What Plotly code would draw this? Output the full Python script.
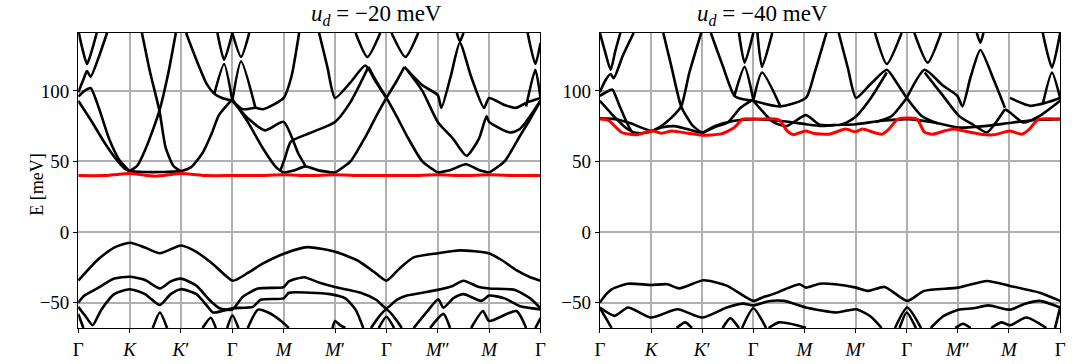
import plotly.graph_objects as go

# ---------------- data (k in units of path segments, E in meV) ----------------
TICK_VALS = [0, 1, 2, 3, 4, 5, 6, 7, 8, 9]
TICK_TEXT = ["Γ", "<i>K</i>", "<i>K</i>′", "Γ", "<i>M</i>", "<i>M</i>′", "Γ", "<i>M</i>″", "<i>M</i>", "Γ"]
Y_TICKS = [-50, 0, 50, 100]
Y_TICK_TEXT = ["−50", "0", "50", "100"]
TITLES = ["<i>u<sub>d</sub></i> = −20 meV", "<i>u<sub>d</sub></i> = −40 meV"]

# u_d = -20 meV : conduction bands (black)
COND_20 = [
    ([0, 0.25, 0.5, 0.75, 0.9, 1], [93, 79, 64, 51, 45, 43]),
    ([0, 0.12, 0.24, 0.4, 0.6, 0.8, 1], [96, 100, 102, 88, 66, 51, 43]),
    ([0, 0.1, 0.17, 0.24, 0.4, 0.56], [99, 108, 114, 110, 124, 141]),
    ([0, 0.08, 0.17, 0.26, 0.36], [143, 130, 119, 128, 141]),
    ([1, 1.15, 1.3, 1.45, 1.58, 1.75, 1.9], [43, 47, 58, 72, 86, 112, 141]),
    ([1.24, 1.4, 1.58, 1.7, 1.85, 2], [141, 113, 86, 60, 47, 43]),
    ([1, 1.3, 1.6, 2], [43, 42.5, 42.5, 43]),
    ([2, 2.2, 2.42, 2.6, 2.74, 2.9, 3], [43, 46, 56, 70, 83, 90, 94]),
    ([2.1, 2.3, 2.5, 2.65, 2.8, 3], [141, 122, 105, 98, 95, 93]),
    ([2.65, 2.84, 3], [98, 119, 93]),
    ([2.71, 2.84, 3.0], [141, 122, 141]),
    ([3, 3.17, 3.45], [93, 121, 88]),
    ([3.0, 3.17, 3.33], [141, 124, 141]),
    ([3, 3.3, 3.6, 3.85, 4], [94, 78, 59, 46, 42]),
    ([3, 3.32, 3.64, 4.0, 4.28, 4.42], [93, 80, 72, 78, 56, 47]),
    ([4, 4.2, 4.42, 4.7, 5], [42, 43.5, 46.5, 43.5, 42]),
    ([3, 3.2, 3.45, 3.6, 4.0, 4.15, 4.3], [93, 87, 88, 87, 95, 110, 141]),
    ([4.69, 4.85, 5.0, 5.3, 5.59, 5.8, 6.0], [141, 117, 95, 106, 118, 106, 95]),
    ([5.4, 5.63, 5.88], [141, 124, 141]),
    ([3.93, 4.02, 4.14, 4.5, 5.0, 5.3, 5.65], [43, 52, 64, 70, 78, 92, 117]),
    ([5, 5.3, 5.6, 5.8, 6, 6.2, 6.35], [42, 50, 68, 82, 95, 107, 117]),
    ([5.65, 5.8, 6, 6.2, 6.4, 6.7, 7], [117, 107, 95, 82, 68, 50, 42]),
    ([6.1, 6.37, 6.62], [141, 124, 141]),
    ([6.35, 6.7, 7.0, 7.07, 7.25, 7.43, 7.65, 7.9, 8.0, 8.3, 8.52, 8.75, 9.0],
     [117, 104, 97, 88, 110, 134, 110, 88, 95, 90, 88, 92, 95]),
    ([7.37, 7.43, 7.5], [141, 135, 141]),
    ([6.4, 6.7, 7.0, 7.3, 7.56, 7.8, 7.95, 8.0, 8.4, 8.6, 9.0],
     [115, 100, 78, 66, 54, 66, 82, 78, 70.5, 73, 93]),
    ([7, 7.25, 7.55, 7.8, 8], [42, 44, 48, 44, 42]),
    ([8, 8.3, 8.6, 8.8, 9], [42, 50, 68, 80, 93]),
    ([8.75, 8.9, 9.0], [141, 119, 134]),
    ([8.72, 8.9, 9.0], [89, 115, 95]),
]

# u_d = -20 meV : valence bands (black)
VAL_20 = [
    ([0, 0.37, 0.7, 1.01, 1.3, 1.59, 2.0, 2.3, 2.62, 3.01, 3.3, 3.58, 4.03, 4.46, 5.0, 5.43, 5.75,
      6.0, 6.25, 6.53, 7.01, 7.43, 7.99, 8.25, 8.53, 8.8, 9.0],
     [-34.5, -20, -11, -7.6, -11, -15, -9.5, -14, -22.6, -34.5, -29, -22.6, -15, -10.7, -14, -20, -28,
      -34.5, -26, -18, -15, -13, -15, -20, -27, -32, -34.5]),
    ([0, 0.12, 0.37, 0.7, 1.0, 1.3, 1.59, 1.8, 2.0, 2.3, 2.55, 2.75, 3.0, 3.2, 3.5, 4.0, 4.1, 4.4,
      4.7, 5.0, 5.5, 5.8, 6.0, 6.2, 6.4, 7.0, 7.3, 7.5, 7.8, 8.0, 8.5, 8.8, 9.0],
     [-50, -45, -40, -33, -31.7, -34, -40, -35, -33, -38, -48, -54, -55, -46, -40, -39, -35, -32,
      -36, -39, -43, -48, -54, -48, -45, -41, -38, -34.5, -39, -40, -41, -47, -54]),
    ([0, 0.15, 0.28, 0.45, 0.7, 1.0, 1.3, 1.59, 1.8, 2.0, 2.3, 2.5, 2.62, 2.8, 3.0, 3.4, 3.55, 4.0,
      4.1, 4.5, 4.9, 5.2, 5.4, 5.55],
     [-53, -60, -66, -55, -44, -40.5, -44, -51.7, -44, -40.5, -44, -52, -57, -56, -54, -53, -48, -47,
      -43, -43, -44, -47, -55, -68]),
    ([6.53, 6.8, 7.01, 7.11, 7.3, 7.5, 7.85, 8.0, 8.3, 8.59, 9.0],
     [-68, -56, -47.6, -53.6, -47, -44, -48.8, -45, -47, -52.4, -54.8]),
    ([0, 0.1], [-58, -68]),
    ([1.45, 1.59, 1.73], [-68, -57, -68]),
    ([2.42, 2.58, 2.68], [-68, -60.7, -68]),
    ([2.9, 3.0, 3.12], [-68, -59, -68]),
    ([3.3, 3.5, 3.7, 3.95, 4.1], [-68, -55, -57, -63, -68]),
    ([4.95, 5.0, 5.1, 5.2], [-68, -63, -66, -68]),
    ([5.7, 6.0, 6.3], [-68, -55, -68]),
    ([5.85, 6.0, 6.15], [-68, -60, -68]),
    ([6.85, 7.11, 7.24], [-68, -58, -68]),
    ([7.65, 7.88, 8.0, 8.53, 8.72], [-68, -56, -63, -56, -68]),
    ([8.9, 9.0], [-68, -61]),
]

# u_d = -20 meV : highlighted band (red)
RED_20_K = [0, 0.5, 1, 1.5, 2, 2.5, 3, 3.5, 4, 4.5, 5, 5.5, 6, 6.5, 7, 7.5, 8, 8.5, 9]
RED_20_E = [40, 40, 41.5, 39.5, 41.5, 40, 40, 40, 40.5, 40, 40.5, 40, 40, 40, 40.5, 40, 40.5, 40, 40]

# u_d = -40 meV : conduction bands (black)
COND_40 = [
    ([0, 0.12, 0.24, 0.4, 0.63, 0.8, 1.0], [96.5, 99, 101, 88, 71, 70, 71]),
    ([0, 0.3, 0.5, 0.63], [93, 81, 74, 71]),
    ([0, 0.1, 0.21, 0.27, 0.45, 0.66], [99, 107, 112, 109, 125, 141]),
    ([0, 0.1, 0.21, 0.3, 0.4], [141, 128, 115, 128, 141]),
    ([1, 1.2, 1.4, 1.59, 1.75, 1.98], [71, 75, 81, 89, 113, 141]),
    ([1.24, 1.4, 1.59, 1.8, 2.0], [141, 117, 89, 76, 70]),
    ([2.17, 2.4, 2.63, 2.8, 3.0], [141, 118, 96.5, 94, 93]),
    ([2.0, 2.3, 2.5, 2.75, 3.0], [70, 75, 77.6, 88, 94]),
    ([2.63, 2.83, 3.0], [96.5, 117, 94]),
    ([2.72, 2.83, 3.0], [141, 120, 141]),
    ([3.0, 3.17, 3.53], [93, 113, 89]),
    ([3.08, 3.17, 3.37], [141, 117, 141]),
    ([3.0, 3.53, 4.03, 4.2, 4.43], [93, 89, 95, 113, 141]),
    ([3.0, 3.4, 3.66, 4.03, 4.3, 4.6], [93, 77.6, 75.2, 82.8, 76, 75.8]),
    ([4.67, 4.85, 5.01, 5.3, 5.61, 5.8, 6.0], [141, 116, 95, 105, 115, 106, 95]),
    ([5.38, 5.61, 5.9], [141, 119, 141]),
    ([4.7, 4.85, 5.01, 5.3, 5.61], [75.8, 78, 82, 95, 113]),
    ([6.0, 6.35, 6.7, 6.99, 7.09, 7.25, 7.44, 7.7, 7.92], [95, 115, 104, 96.5, 89, 110, 129, 108, 88]),
    ([7.37, 7.44, 7.5], [141, 134, 141]),
    ([6.15, 6.41, 6.67], [141, 120, 141]),
    ([6.35, 6.7, 7.02, 7.3, 7.57, 7.75, 7.92], [113, 97, 82.3, 76, 70.5, 78, 87]),
    ([8.02, 8.41, 8.73, 9.0], [95, 89.4, 91.7, 95]),
    ([7.92, 8.02, 8.28, 8.6, 9.0], [87, 84.7, 77.6, 82.3, 93]),
    ([8.66, 8.84, 9.0], [141, 116.5, 141]),
    ([8.66, 8.84, 9.0], [90.6, 113, 95]),
    ([5.4, 5.7, 6.0], [78, 82, 95]),
    ([6.0, 6.3, 6.6], [95, 82, 77]),
    ([0, 0.3, 0.6, 1.0, 1.2, 1.46, 1.7, 2.0, 2.24, 2.63, 3.0, 3.5, 4.03, 4.3, 4.61, 5.01, 5.51,
      6.01, 6.54, 7.02, 7.57, 8.08, 8.6, 9.0],
     [80.5, 80, 77, 71.7, 74, 75, 73, 70.5, 75, 78.8, 80, 78.8, 76.4, 75.2, 75.8, 76.4, 78.8,
      80, 77.6, 74, 75.2, 77.6, 79.5, 80]),
]

# u_d = -40 meV : valence bands (black)
VAL_40 = [
    ([0, 0.1, 0.23, 0.55, 1.0, 1.32, 1.55, 2.03, 2.48, 3.0, 3.2, 3.39, 3.9, 4.03, 4.3, 4.6, 5.01,
      5.25, 5.57, 6.01, 6.34, 7.01, 7.57, 8.02, 8.6, 9.0],
     [-50, -45, -40.6, -36.6, -37.5, -37, -39.9, -34.2, -38, -48.8, -46, -44, -37, -39.4, -36.6,
      -37, -39.4, -41.7, -38.9, -48.8, -41.7, -39.4, -34.7, -38.2, -43, -48.8]),
    ([0, 0.29, 0.55, 1.0, 1.52, 2.0, 2.48, 2.8, 3.0, 3.3, 3.6, 4.03, 4.63, 5.01, 5.3, 5.51],
     [-53.5, -59.4, -53.5, -60.6, -54.7, -60.6, -53.5, -50.7, -52, -49, -48.8, -53.5, -57, -54.7,
      -60, -68]),
    ([6.47, 6.7, 7.01, 7.3, 7.6, 8.02, 8.3, 8.6, 9.0], [-68, -60, -55, -54, -52, -55, -51, -48.8, -53.5]),
    ([0, 0.1, 0.23], [-53.5, -60, -68]),
    ([1.5, 1.67, 1.8], [-68, -64, -68]),
    ([2.4, 2.55, 2.72], [-68, -61, -68]),
    ([2.78, 3.0, 3.25], [-68, -54, -68]),
    ([3.3, 3.5, 3.85, 4.03], [-68, -64, -66, -68]),
    ([5.77, 6.01, 6.28], [-68, -53.5, -68]),
    ([5.86, 6.0, 6.18], [-68, -57, -68]),
    ([6.95, 7.1, 7.25], [-68, -65, -68]),
    ([7.65, 7.85, 8.02, 8.34, 8.73], [-68, -64, -66, -60.6, -68]),
    ([8.9, 9.0], [-68, -53.5]),
]

# u_d = -40 meV : highlighted band (red)
RED_40_K = [0, 0.17, 0.43, 0.75, 1.01, 1.21, 1.4, 1.72, 2.01, 2.37, 2.63, 2.79, 3.01, 3.5, 3.66,
            3.79, 3.92, 4.03, 4.17, 4.48, 4.8, 5.0, 5.13, 5.51, 5.65, 5.83, 6.2, 6.34, 6.5, 6.75,
            6.93, 7.1, 7.44, 7.7, 8.02, 8.25, 8.4, 8.56, 9.0]
RED_40_E = [80, 79, 70.5, 69, 71.7, 70, 71.5, 70, 68.6, 69.5, 74, 80, 80, 79.5, 71.7,
            69, 70.5, 71.5, 70, 69.3, 72.9, 71, 72.9, 69.3, 72.9, 80, 80, 71, 69.3, 71.7,
            72.9, 71.7, 69.3, 68.9, 71.5, 69.3, 72.9, 79.5, 80]

# ---------------- figure ----------------
W, H = 1080, 364
FONT = "Liberation Serif"
fig = go.Figure()


def add_band(k, e, axis, color, width):
    fig.add_trace(go.Scatter(
        x=k, y=e, mode="lines", xaxis=axis[0], yaxis=axis[1],
        line=dict(color=color, width=width, shape="spline", smoothing=0.6),
        showlegend=False, hoverinfo="skip", cliponaxis=True))


panels = [
    (("x", "y"), COND_20 + VAL_20, RED_20_K, RED_20_E),
    (("x2", "y2"), COND_40 + VAL_40, RED_40_K, RED_40_E),
]
for axis, bands, rk, re_ in panels:
    for k, e in bands:
        add_band(k, e, axis, "black", 2.6)
    add_band(rk, re_, axis, "#ff0000", 3.0)

left_dom = [74 / W, 541 / W]
right_dom = [601 / W, 1066 / W]
y_dom = [1 - 328 / H, 1 - 33 / H]

axis_common = dict(
    showline=True, linecolor="black", linewidth=1.2, mirror=True,
    ticks="outside", ticklen=4, tickcolor="black",
    showgrid=True, gridcolor="#b0b0b0", gridwidth=1.5, zeroline=False,
    tickfont=dict(family=FONT, size=19, color="black"),
)

fig.update_layout(
    width=W, height=H,
    margin=dict(l=0, r=0, t=0, b=0),
    paper_bgcolor="white", plot_bgcolor="white",
    xaxis=dict(domain=left_dom, range=[0, 9], tickvals=TICK_VALS, ticktext=TICK_TEXT,
               anchor="y", **axis_common),
    yaxis=dict(domain=y_dom, range=[-68, 141], tickvals=Y_TICKS, ticktext=Y_TICK_TEXT,
               anchor="x", **axis_common),
    xaxis2=dict(domain=right_dom, range=[0, 9], tickvals=TICK_VALS, ticktext=TICK_TEXT,
                anchor="y2", **axis_common),
    yaxis2=dict(domain=y_dom, range=[-68, 141], tickvals=Y_TICKS, ticktext=Y_TICK_TEXT,
                anchor="x2", **axis_common),
)

for i, dom in enumerate([left_dom, right_dom]):
    fig.add_annotation(text=TITLES[i], x=(dom[0] + dom[1]) / 2, y=1 - 15 / H,
                       xref="paper", yref="paper", showarrow=False, yanchor="middle",
                       font=dict(family=FONT, size=23, color="black"))
fig.add_annotation(text="E [meV]", x=20 / W, y=1 - 185 / H, xref="paper", yref="paper",
                   showarrow=False, textangle=-90,
                   font=dict(family=FONT, size=18, color="black"))

fig.write_html("out.html", config={"displayModeBar": False},
               post_script="document.body.style.margin='0px';")
